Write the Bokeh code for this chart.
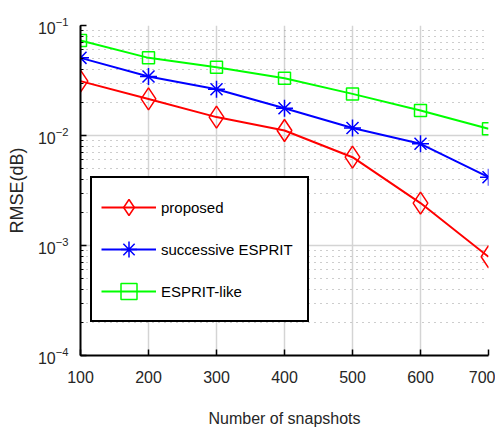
from bokeh.plotting import figure
from bokeh.models import FixedTicker, Range1d, Legend, LegendItem, LogTicker
from bokeh.embed import file_html
from bokeh.resources import INLINE

snapshots = [100, 200, 300, 400, 500, 600, 700]
proposed = [0.0312, 0.0215, 0.0147, 0.0111, 0.00635, 0.00243, 0.00079]
successive_esprit = [0.0508, 0.0344, 0.0263, 0.0177, 0.0117, 0.0084, 0.00418]
esprit_like = [0.073, 0.0508, 0.0418, 0.0332, 0.0239, 0.0169, 0.0115]
x_ticks = [100, 200, 300, 400, 500, 600, 700]
labels = ["proposed", "successive ESPRIT", "ESPRIT-like"]

FONT = "Liberation Sans"
TXT = "#262626"

p = figure(width=495, height=432, y_axis_type="log",
           x_range=Range1d(100, 700), y_range=Range1d(1e-4, 1e-1),
           output_backend="svg", toolbar_location=None,
           min_border_left=80, min_border_right=7, min_border_top=25, min_border_bottom=77)
p.outline_line_color = None
p.background_fill_color = "white"

# axes
p.xaxis.ticker = FixedTicker(ticks=x_ticks)
p.yaxis.ticker = LogTicker(num_minor_ticks=10)
for ax in (p.xaxis[0], p.yaxis[0]):
    ax.axis_line_color = "black"
    ax.axis_line_width = 2
    ax.major_tick_in = 6
    ax.major_tick_out = 0
    ax.major_tick_line_color = "black"
    ax.major_tick_line_width = 1.5
    ax.minor_tick_in = 3
    ax.minor_tick_out = 0
    ax.minor_tick_line_color = "black"
    ax.major_label_text_font = FONT
    ax.major_label_text_font_size = "16px"
    ax.major_label_text_color = TXT
    ax.axis_label_text_font_style = "normal"
    ax.axis_label_text_color = TXT
p.xaxis.minor_tick_line_color = None
p.xaxis.major_label_standoff = 15
p.yaxis.major_label_standoff = 12
p.xaxis.axis_label = "Number of snapshots"
p.xaxis.axis_label_text_font = FONT
p.xaxis.axis_label_text_font_size = "16px"
p.xaxis.axis_label_standoff = 24
p.yaxis.axis_label = "RMSE(dB)"
p.yaxis.axis_label_text_font = FONT
p.yaxis.axis_label_text_font_size = "18px"
p.yaxis.axis_label_standoff = 8

# grids
p.xgrid.grid_line_color = "#d4d4d4"
p.xgrid.grid_line_width = 1.5
p.ygrid.grid_line_color = "#d4d4d4"
p.ygrid.grid_line_width = 1.5
p.ygrid.minor_grid_line_color = "#9a9a9a"
p.ygrid.minor_grid_line_width = 1
p.ygrid.minor_grid_line_dash = "1 5"

series = [
    (proposed, "#ff0000", "diamond", 22),
    (successive_esprit, "#0000ff", "asterisk", 17),
    (esprit_like, "#00ff00", "square", 12),
]
items = []
for (vals, color, marker, size), lab in zip(series, labels):
    r1 = p.line(snapshots, vals, line_color=color, line_width=2)
    r2 = p.scatter(snapshots, vals, marker=marker, size=size, line_color=color,
                   fill_color=None, line_width=1.5)
    items.append(LegendItem(label=lab, renderers=[r1, r2]))

legend = Legend(items=items, location=(10, 33))
legend.border_line_color = "black"
legend.border_line_alpha = 1
legend.border_line_width = 2
legend.background_fill_color = "white"
legend.background_fill_alpha = 1
legend.padding = 9
legend.spacing = 2
legend.glyph_width = 55
legend.glyph_height = 40
legend.label_height = 40
legend.label_width = 137
legend.label_standoff = 5
legend.label_text_font = FONT
legend.label_text_font_size = "15px"
legend.label_text_color = "black"
legend.margin = 0
p.add_layout(legend, "center")

open("out.html", "w").write(file_html(p, INLINE))
